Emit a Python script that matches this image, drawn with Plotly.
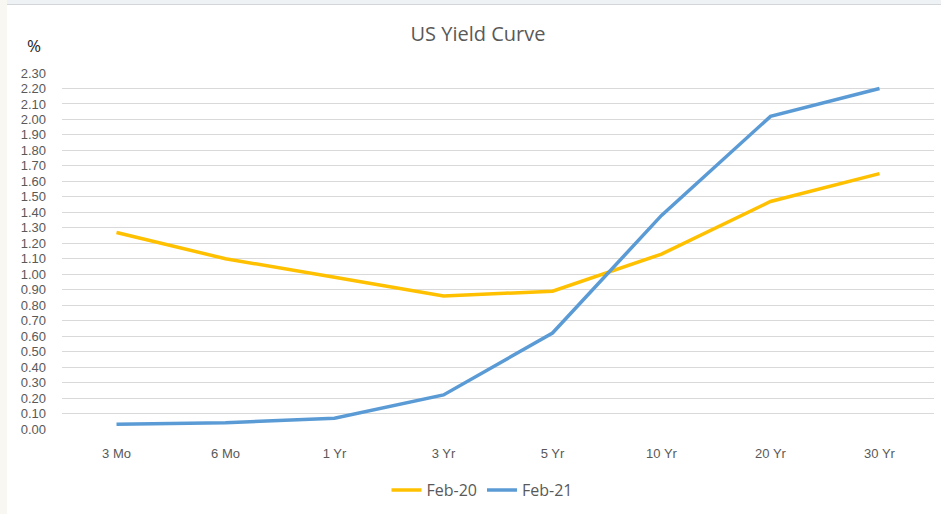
import plotly.graph_objects as go

# Treasury yield curve, end of February, in percent
maturities = ["3 Mo", "6 Mo", "1 Yr", "3 Yr", "5 Yr", "10 Yr", "20 Yr", "30 Yr"]
feb_20 = [1.27, 1.10, 0.98, 0.86, 0.89, 1.13, 1.47, 1.65]
feb_21 = [0.03, 0.04, 0.07, 0.22, 0.62, 1.38, 2.02, 2.20]
y_ticks = [round(i * 0.1, 2) for i in range(24)]
y_tick_text = [f"{v:.2f}" for v in y_ticks]

W, H = 941, 514
L, R, T, B = 62, 7, 73, 85
pw, ph = W - L - R, H - T - B


def px_x(x):
    return (x - L) / pw


def px_y(y):
    return (H - B - y) / ph


fig = go.Figure()
fig.add_trace(go.Scatter(x=maturities, y=feb_20, name="Feb-20", mode="lines",
                         line=dict(color="#FFC000", width=3.5)))
fig.add_trace(go.Scatter(x=maturities, y=feb_21, name="Feb-21", mode="lines",
                         line=dict(color="#5B9BD5", width=3.5)))

font_family = "Open Sans"
tick_family = "Liberation Sans"
text_grey = "#595959"

fig.update_layout(
    width=W, height=H,
    margin=dict(l=L, r=R, t=T, b=B),
    paper_bgcolor="white", plot_bgcolor="white",
    font=dict(family=font_family, color=text_grey, size=13),
    title=dict(text="US Yield Curve", x=478 / W, xanchor="center",
               y=1 - 34 / H, yanchor="middle",
               font=dict(size=20, color=text_grey, family=font_family)),
    xaxis=dict(range=[-0.5, len(maturities) - 0.5],
               showgrid=False, showline=False, zeroline=False, ticks="",
               tickfont=dict(size=13, color=text_grey, family=tick_family),
               ticklabelstandoff=15),
    yaxis=dict(range=[0, 2.3], tickvals=y_ticks, ticktext=y_tick_text,
               showgrid=True, gridcolor="#D9D9D9", gridwidth=1.3,
               zeroline=False, showline=False, ticks="",
               tickfont=dict(size=13, color=text_grey, family=tick_family),
               ticklabelstandoff=15),
    legend=dict(orientation="h", x=px_x(482), xanchor="center",
                y=px_y(490), yanchor="middle",
                font=dict(size=16, color=text_grey, family=font_family),
                bgcolor="rgba(0,0,0,0)"),
    showlegend=True,
    annotations=[dict(text="%", xref="paper", yref="paper",
                      x=px_x(34), y=px_y(45), xanchor="center", yanchor="middle",
                      showarrow=False, font=dict(size=17, color="#262626",
                                                 family=font_family))],
    shapes=[
        # window frame: left strip and top strip with divider
        dict(type="rect", xref="paper", yref="paper", layer="below",
             x0=px_x(0), x1=px_x(7), y0=px_y(H), y1=px_y(0),
             fillcolor="#F8F7F2", line=dict(width=0)),
        dict(type="rect", xref="paper", yref="paper", layer="below",
             x0=px_x(7), x1=px_x(W), y0=px_y(4), y1=px_y(0),
             fillcolor="#EEF2F4", line=dict(width=0)),
        dict(type="line", xref="paper", yref="paper", layer="below",
             x0=px_x(7), x1=px_x(W), y0=px_y(4.5), y1=px_y(4.5),
             line=dict(color="#D2D6D8", width=1)),
    ],
)

fig.write_html("out.html")
